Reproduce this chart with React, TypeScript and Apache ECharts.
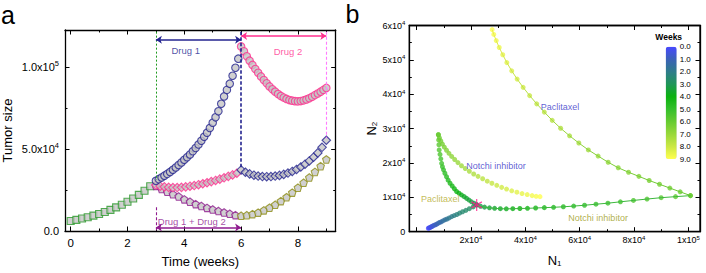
import { useEffect, useRef } from 'react';
import * as echarts from 'echarts';

const FONT = '"Liberation Sans", Arial, Helvetica, sans-serif';

// ---------------- Panel a : tumor size (x1000) vs time (weeks) ----------------
const growthWeeks = [0, 0.2, 0.4, 0.6, 0.8, 1.0, 1.2, 1.4, 1.6, 1.8, 2.0, 2.2, 2.4, 2.6, 2.8];
const growthSize = [6.1, 6.8, 7.6, 8.4, 9.4, 10.4, 11.6, 12.9, 14.4, 16.0, 17.8, 19.8, 22.0, 24.5, 27.3];

const drug1Weeks = [3.0, 3.1, 3.2, 3.3, 3.4, 3.5, 3.6, 3.7, 3.8, 3.9, 4.0, 4.1, 4.2, 4.3, 4.4, 4.5, 4.6, 4.7, 4.8, 4.9, 5.0, 5.1, 5.2, 5.3, 5.4, 5.5, 5.6, 5.7, 5.8, 5.9];
const drug1Size = [30.6, 31.6, 32.6, 33.7, 34.8, 36.0, 37.3, 38.7, 40.2, 41.8, 43.4, 45.0, 46.6, 48.6, 50.6, 52.7, 55.0, 57.4, 59.9, 62.8, 66.0, 69.3, 73.0, 77.5, 82.0, 86.0, 89.8, 94.6, 99.5, 105.0];

const drug2AfterWeeks = [6.0, 6.1, 6.2, 6.3, 6.4, 6.5, 6.6, 6.7, 6.8, 6.9, 7.0, 7.1, 7.2, 7.3, 7.4, 7.5, 7.6, 7.7, 7.8, 7.9, 8.0, 8.1, 8.2, 8.3, 8.4, 8.5, 8.6, 8.7, 8.8, 8.9, 9.0];
const drug2AfterSize = [112.5, 109.5, 106.5, 103.8, 101.2, 98.7, 96.4, 94.2, 92.0, 90.0, 88.1, 86.4, 84.9, 83.5, 82.3, 81.3, 80.5, 79.8, 79.4, 79.1, 79.0, 79.2, 79.6, 80.2, 80.9, 81.8, 82.8, 83.8, 84.9, 86.0, 87.2];

const drug2FirstWeeks = [3.0, 3.15, 3.3, 3.45, 3.6, 3.75, 3.9, 4.05, 4.2, 4.35, 4.5, 4.65, 4.8, 4.95, 5.1, 5.25, 5.4, 5.55, 5.7, 5.85];
const drug2FirstSize = [28.0, 27.3, 26.9, 26.6, 26.5, 26.5, 26.6, 26.9, 27.3, 27.7, 28.2, 28.8, 29.4, 30.1, 30.8, 31.6, 32.4, 33.3, 34.2, 35.2];

const drug1AfterWeeks = [6.0, 6.15, 6.3, 6.45, 6.6, 6.75, 6.9, 7.05, 7.2, 7.35, 7.5, 7.65, 7.8, 7.95, 8.1, 8.25, 8.4, 8.55, 8.7, 8.85, 9.0];
const drug1AfterSize = [37.2, 35.8, 34.8, 34.0, 33.5, 33.2, 33.1, 33.2, 33.5, 33.9, 34.5, 35.3, 36.3, 37.5, 39.0, 40.7, 42.7, 45.0, 47.6, 51.0, 55.3];

const comboWeeks = [3.0, 3.2, 3.4, 3.6, 3.8, 4.0, 4.2, 4.4, 4.6, 4.8, 5.0, 5.2, 5.4, 5.6, 5.8];
const comboSize = [27.5, 25.6, 23.9, 22.4, 21.0, 19.3, 17.8, 16.4, 15.2, 14.1, 13.1, 12.2, 11.3, 10.5, 9.7];

const regrowWeeks = [6.0, 6.2, 6.4, 6.6, 6.8, 7.0, 7.2, 7.4, 7.6, 7.8, 8.0, 8.2, 8.4, 8.6, 8.8, 9.0];
const regrowSize = [9.3, 9.6, 10.3, 11.2, 12.6, 14.2, 16.0, 18.2, 20.6, 23.4, 26.4, 29.4, 32.6, 36.0, 39.5, 43.6];

const aXMajor = [0, 2, 4, 6, 8];
const aXMinor = [1, 3, 5, 7, 9];
const aXLabels = ['0', '2', '4', '6', '8'];
const aYMajor = [0, 50000, 100000];
const aYMinor = [25000, 75000];
const aYLabels = ['0.0', '5.0x10^4', '1.0x10^5'];

// ---------------- Panel b : N1 / N2 phase plane (x1000), colored by week ----------------
const initN1 = [4.3, 4.6, 4.9, 5.3, 5.6, 6.0, 6.5, 6.9, 7.4, 8.0, 8.5, 9.1, 9.8, 10.5, 11.2, 12.0, 12.9, 13.8, 14.8, 15.8, 16.9, 18.1, 19.4, 20.8, 22.1];
const initN2 = [1.0, 1.1, 1.2, 1.4, 1.5, 1.7, 1.9, 2.0, 2.2, 2.5, 2.7, 2.9, 3.2, 3.5, 3.7, 4.0, 4.4, 4.7, 5.0, 5.4, 5.8, 6.2, 6.7, 7.2, 7.8];
const initWeeks = [0, 0.13, 0.25, 0.38, 0.5, 0.63, 0.75, 0.88, 1, 1.13, 1.25, 1.38, 1.5, 1.63, 1.75, 1.88, 2, 2.13, 2.25, 2.38, 2.5, 2.63, 2.75, 2.88, 3];

const notchFirstN1 = [22.1, 23.5, 25.0, 26.8, 28.7, 30.8, 33.0, 35.4, 38.0, 40.8, 43.8, 47.0, 50.4, 54.0, 57.8, 61.8, 66.0, 70.4, 75.0, 79.8, 84.8, 90.0, 95.3, 100.8];
const notchFirstN2 = [7.8, 7.4, 7.15, 6.95, 6.8, 6.7, 6.65, 6.7, 6.75, 6.8, 6.9, 7.0, 7.1, 7.25, 7.45, 7.7, 8.0, 8.3, 8.7, 9.1, 9.5, 9.9, 10.2, 10.5];
const notchFirstWeeks = [3, 3.13, 3.26, 3.39, 3.52, 3.65, 3.78, 3.91, 4.04, 4.17, 4.3, 4.43, 4.57, 4.7, 4.83, 4.96, 5.09, 5.22, 5.35, 5.48, 5.61, 5.74, 5.87, 6];

const paclSecondN1 = [100.8, 97.0, 93.2, 89.4, 85.6, 81.8, 78.0, 74.2, 70.5, 66.8, 63.2, 59.7, 56.3, 53.0, 49.9, 47.0, 44.2, 41.6, 39.2, 37.0, 35.0, 33.2, 31.7, 30.4, 29.3, 28.4, 27.8];
const paclSecondN2 = [10.5, 11.6, 12.7, 13.8, 14.9, 16.1, 17.3, 18.6, 20.2, 22.0, 23.8, 25.8, 27.9, 30.1, 32.4, 34.8, 37.2, 39.6, 42.0, 44.4, 46.8, 49.2, 51.5, 53.6, 55.6, 57.4, 58.8];
const paclSecondWeeks = [6, 6.12, 6.23, 6.35, 6.46, 6.58, 6.69, 6.81, 6.92, 7.04, 7.15, 7.27, 7.38, 7.5, 7.62, 7.73, 7.85, 7.96, 8.08, 8.19, 8.31, 8.42, 8.54, 8.65, 8.77, 8.88, 9];

const paclFirstN1 = [22.1, 21.2, 20.2, 19.3, 18.4, 17.5, 16.5, 15.6, 14.7, 13.9, 13.1, 12.3, 11.6, 11.0, 10.4, 9.9, 9.5, 9.2, 8.9, 8.6, 8.3, 8.2, 8.1, 8.0];
const paclFirstN2 = [7.8, 8.25, 8.7, 9.2, 9.7, 10.2, 10.7, 11.2, 11.7, 12.5, 13.3, 14.1, 15.0, 16.0, 17.0, 18.0, 18.9, 19.9, 21.2, 22.5, 23.8, 25.3, 26.7, 28.2];
const paclFirstWeeks = [3, 3.13, 3.26, 3.39, 3.52, 3.65, 3.78, 3.91, 4.04, 4.17, 4.3, 4.43, 4.57, 4.7, 4.83, 4.96, 5.09, 5.22, 5.35, 5.48, 5.61, 5.74, 5.87, 6];

const notchSecondN1 = [8.0, 8.4, 8.9, 9.5, 10.2, 11.0, 11.9, 12.9, 14.0, 15.2, 16.5, 17.9, 19.4, 21.0, 22.6, 24.3, 26.0, 27.7, 29.5, 31.3, 33.1, 35.0, 36.9, 38.8, 40.7, 42.5, 44.0, 45.4];
const notchSecondN2 = [28.2, 27.3, 26.4, 25.5, 24.6, 23.7, 22.8, 21.9, 21.0, 20.1, 19.2, 18.4, 17.6, 16.8, 16.1, 15.4, 14.7, 14.1, 13.5, 12.9, 12.4, 11.9, 11.5, 11.1, 10.8, 10.5, 10.3, 10.2];
const notchSecondWeeks = [6, 6.11, 6.22, 6.33, 6.44, 6.56, 6.67, 6.78, 6.89, 7, 7.11, 7.22, 7.33, 7.44, 7.56, 7.67, 7.78, 7.89, 8, 8.11, 8.22, 8.33, 8.44, 8.56, 8.67, 8.78, 8.89, 9];

const switchPoint = [22.1, 7.8];

const bXMajor = [0, 20000, 40000, 60000, 80000, 100000];
const bXMinor = [10000, 30000, 50000, 70000, 90000];
const bXLabelValues = [20000, 40000, 60000, 80000, 100000];
const bXLabels = ['2x10^4', '4x10^4', '6x10^4', '8x10^4', '1x10^5'];
const bYMajor = [0, 10000, 20000, 30000, 40000, 50000, 60000];
const bYMinor = [5000, 15000, 25000, 35000, 45000, 55000];
const bYLabels = ['0', '1x10^4', '2x10^4', '3x10^4', '4x10^4', '5x10^4', '6x10^4'];

const weekTicks = [0, 1, 2, 3, 4, 5, 6, 7, 8, 9];
const weekLabels = ['0.0', '1.0', '2.0', '3.0', '4.0', '5.0', '6.0', '7.0', '8.0', '9.0'];
const weekColors = ['#4848ff', '#3b62b8', '#2e7c8a', '#1f9558', '#0bb20f', '#34c02c', '#66cb31', '#98d83b', '#cbe844', '#ffff4f'];

// ---------------- helpers ----------------
const K = 1000;
const B_X_MIN = -2700;
const B_X_MAX = 104300;
const B_Y_MIN = 0;
const B_Y_MAX = 60000;
const GRID_B = { left: 409.3, top: 25.5, width: 290.7, height: 206.2 };
const GRAY = '#c4c4c4';
const NAVY = '#23238f';
const PINK = '#ff2f8e';
const PURPLE = '#8f1b8f';
const GREEN = '#2a9a2a';
const OLIVE = '#8c8c14';

const PENTAGON = 'path://M0,-10L9.51,-3.09L5.88,8.09L-5.88,8.09L-9.51,-3.09Z';
const ASTERISK =
  'path://M-1,-10L1,-10L1,10L-1,10ZM8.16,-5.87L9.16,-4.13L-8.16,5.87L-9.16,4.13ZM-9.16,-4.13L-8.16,-5.87L9.16,4.13L8.16,5.87Z';

function sci(label: string) {
  const k = label.indexOf('^');
  return k < 0 ? `{m|${label}}` : `{m|${label.slice(0, k)}}{s|${label.slice(k + 1)}}`;
}

function pairs(xs: number[], ys: number[], scale = 1) {
  return xs.map((x, i) => [x, ys[i] * scale]);
}

function triples(n1: number[], n2: number[], w: number[]) {
  return n1.map((x, i) => [x * K, n2[i] * K, w[i]]);
}

// four axes per dimension: labelled main side, its minor ticks, mirrored side and its minor ticks
function frameAxes(
  dim: 'x' | 'y',
  gridIndex: number,
  min: number,
  max: number,
  majors: number[],
  minors: number[],
  labelValues: number[],
  labels: string[],
  labelStyle: any,
  extra: any,
  drawLines = true,
  drawLabels = true
) {
  const isX = dim === 'x';
  const lineStyle = { color: '#000', width: 1.3 };
  const tickStyle = { color: '#000', width: 1 };
  const fmt = (v: number) => {
    const i = labelValues.findIndex((u) => Math.abs(u - v) < 1e-6);
    return i < 0 ? '' : sci(labels[i]);
  };
  const base = { type: 'value', gridIndex, min, max, splitLine: { show: false } };
  const near = isX ? 'bottom' : 'left';
  const far = isX ? 'top' : 'right';
  const main: any = {
    ...base,
    position: near,
    axisLine: { show: drawLines, onZero: false, lineStyle },
    axisTick: { show: drawLines, inside: true, length: 4.5, lineStyle: tickStyle, customValues: majors },
    axisLabel: drawLabels
      ? { show: true, customValues: labelValues, formatter: fmt, ...labelStyle }
      : { show: false },
    ...(drawLabels ? extra : {}),
  };
  if (!drawLines) return [main];
  return [
    main,
    {
      ...base,
      position: near,
      axisLine: { show: false, onZero: false },
      axisTick: { show: true, inside: true, length: 2.5, lineStyle: tickStyle, customValues: minors },
      axisLabel: { show: false },
    },
    {
      ...base,
      position: far,
      axisLine: { show: true, onZero: false, lineStyle },
      axisTick: { show: true, inside: true, length: 4.5, lineStyle: tickStyle, customValues: majors },
      axisLabel: { show: false },
    },
    {
      ...base,
      position: far,
      axisLine: { show: false, onZero: false },
      axisTick: { show: true, inside: true, length: 2.5, lineStyle: tickStyle, customValues: minors },
      axisLabel: { show: false },
    },
  ];
}

function buildOptionA() {
  const richA = {
    m: { fontSize: 11, fontFamily: FONT, color: '#000' },
    s: { fontSize: 7.5, fontFamily: FONT, color: '#000', padding: [0, 0, 7, 0] },
  };
  const xA = frameAxes('x', 0, -0.2, 9.33, aXMajor, aXMinor, aXMajor, aXLabels,
    { margin: 6, rich: { m: { fontSize: 11.5, fontFamily: FONT, color: '#000' } } },
    {
      name: 'Time (weeks)', nameLocation: 'middle', nameGap: 24,
      nameTextStyle: { fontSize: 13, fontFamily: FONT, color: '#000' },
    });
  const yA = frameAxes('y', 0, 0, 122500, aYMajor, aYMinor, aYMajor, aYLabels,
    { margin: 6, rich: richA },
    {
      name: 'Tumor size', nameLocation: 'middle', nameGap: 51,
      nameTextStyle: { fontSize: 13, fontFamily: FONT, color: '#000' },
    });

  const aSeries = (data: number[][], symbol: string, size: number, color: string) => ({
    type: 'scatter', xAxisIndex: 0, yAxisIndex: 0, symbol, symbolSize: size,
    itemStyle: { color: GRAY, borderColor: color, borderWidth: 1.1 }, data, silent: true,
  });

  const series: any[] = [
    aSeries(pairs(growthWeeks, growthSize, K), 'rect', 7, GREEN),
    aSeries(pairs(comboWeeks, comboSize, K), PENTAGON, 7.5, PURPLE),
    aSeries(pairs(regrowWeeks, regrowSize, K), PENTAGON, 7.5, OLIVE),
    aSeries(pairs(drug2FirstWeeks, drug2FirstSize, K), 'diamond', 8.5, PINK),
    aSeries(pairs(drug1AfterWeeks, drug1AfterSize, K), 'diamond', 8.5, NAVY),
    aSeries(pairs(drug1Weeks, drug1Size, K), 'circle', 7.5, NAVY),
    aSeries(pairs(drug2AfterWeeks, drug2AfterSize, K), 'circle', 7.5, PINK),
    {
      type: 'scatter', xAxisIndex: 0, yAxisIndex: 0, symbolSize: 1, silent: true, z: 5,
      itemStyle: { color: 'rgba(0,0,0,0)' },
      label: { show: true, position: 'inside', fontSize: 9.5, fontFamily: FONT },
      data: [
        { value: [4.05, 110000], label: { formatter: 'Drug 1', color: NAVY } },
        { value: [7.65, 109500], label: { formatter: 'Drug 2', color: PINK } },
        { value: [3.05, 5500], label: { formatter: 'Drug 1 + Drug 2', color: PURPLE, position: 'right', distance: 0 } },
      ],
      markLine: {
        silent: true, symbol: ['none', 'none'], label: { show: false }, emphasis: { disabled: true },
        data: [
          [{ coord: [3, 121500], lineStyle: { color: '#1f9a1f', type: [2, 2], width: 1 } }, { coord: [3, 31000] }],
          [{ coord: [6, 121500], lineStyle: { color: NAVY, type: [3.5, 2], width: 1.6 } }, { coord: [6, 38500] }],
          [{ coord: [9, 121500], lineStyle: { color: '#ff7cff', type: [3, 2], width: 1.1 } }, { coord: [9, 56500] }],
          [{ coord: [3, 14500], lineStyle: { color: PURPLE, type: [3, 2], width: 1.1 } }, { coord: [3, 400] }],
          [
            { coord: [3, 116500], symbol: 'arrow', symbolSize: 6, lineStyle: { color: NAVY, type: 'solid', width: 1.5 } },
            { coord: [6, 116500], symbol: 'arrow', symbolSize: 6 },
          ],
          [
            { coord: [6, 118900], symbol: 'arrow', symbolSize: 6, lineStyle: { color: PINK, type: 'solid', width: 1.5 } },
            { coord: [9, 118900], symbol: 'arrow', symbolSize: 6 },
          ],
          [
            { coord: [3, 2100], symbol: 'arrow', symbolSize: 6, lineStyle: { color: PURPLE, type: 'solid', width: 1.5 } },
            { coord: [6, 2100], symbol: 'arrow', symbolSize: 6 },
          ],
        ],
      },
    },
  ];

  return {
    animation: false,
    backgroundColor: '#fff',
    textStyle: { fontFamily: FONT },
    grid: [{ left: 62.7, top: 30, width: 273, height: 203.5 }],
    xAxis: xA,
    yAxis: yA,
    graphic: [
      { type: 'text', x: 1, y: 27, style: { text: 'a', fontSize: 25, fontFamily: FONT, fill: '#000', verticalAlign: 'bottom' } },
    ],
    series,
  };
}

// panel b frame and inward ticks only (a plain chart of its own)
function buildOptionBFrame() {
  const xF = frameAxes('x', 0, B_X_MIN, B_X_MAX, bXMajor, bXMinor, [], [], {}, {}, true, false);
  const yF = frameAxes('y', 0, B_Y_MIN, B_Y_MAX, bYMajor, bYMinor, [], [], {}, {}, true, false);
  return {
    animation: false,
    backgroundColor: 'rgba(0,0,0,0)',
    grid: [{ ...GRID_B, show: true, borderColor: '#000', borderWidth: 1.3, backgroundColor: 'rgba(0,0,0,0)' }],
    xAxis: xF,
    yAxis: yF,
    series: [{ type: 'scatter', xAxisIndex: 0, yAxisIndex: 0, symbolSize: 0, silent: true, data: [[B_X_MIN, B_Y_MIN]] }],
  };
}

function buildOptionB() {
  const richB = {
    m: { fontSize: 9, fontFamily: FONT, color: '#000' },
    s: { fontSize: 6, fontFamily: FONT, color: '#000', padding: [0, 0, 5, 0] },
  };
  const nameRich = {
    n: { fontSize: 13, fontFamily: FONT, color: '#000' },
    d: { fontSize: 8, fontFamily: FONT, color: '#000', padding: [6, 0, 0, 0] },
  };
  const xB = frameAxes('x', 0, B_X_MIN, B_X_MAX, bXMajor, bXMinor, bXLabelValues, bXLabels,
    { margin: 3, rich: richB },
    { name: '{n|N}{d|1}', nameLocation: 'middle', nameGap: 22, nameTextStyle: { rich: nameRich } },
    false, true);
  const yB = frameAxes('y', 0, B_Y_MIN, B_Y_MAX, bYMajor, bYMinor, bYMajor, bYLabels,
    { margin: 4, rich: richB },
    { name: '{n|N}{d|2}', nameLocation: 'middle', nameGap: 26, nameTextStyle: { rich: nameRich } },
    false, true);

  const xBar = { type: 'value', gridIndex: 1, show: false, min: 0, max: 1 };
  const yBar = {
    type: 'value', gridIndex: 1, min: 0, max: 9, inverse: true, position: 'right',
    axisLine: { show: false }, axisTick: { show: false }, splitLine: { show: false },
    axisLabel: {
      show: true, customValues: weekTicks, margin: 3, fontSize: 8, fontFamily: FONT, color: '#000',
      formatter: (v: number) => {
        const i = weekTicks.indexOf(v);
        return i < 0 ? '' : weekLabels[i];
      },
    },
    name: 'Weeks', nameLocation: 'start', nameGap: 5,
    nameTextStyle: { fontSize: 8.5, fontWeight: 'bold', fontFamily: FONT, color: '#000', align: 'center', padding: [0, 0, 0, 6] },
  };

  const series: any[] = [];
  series.push({
    type: 'line', xAxisIndex: 0, yAxisIndex: 0, symbol: 'none', silent: true,
    lineStyle: { color: '#3cb83c', width: 1 },
    data: pairs(notchFirstN1.map((v) => v * K), notchFirstN2, K),
  });
  series.push({
    type: 'line', xAxisIndex: 0, yAxisIndex: 0, symbol: 'none', silent: true,
    lineStyle: {
      width: 1,
      color: {
        type: 'linear', x: 0, y: 0, x2: 0, y2: 1,
        colorStops: [{ offset: 0, color: '#eaee50' }, { offset: 1, color: '#66c830' }],
      },
    },
    data: pairs(paclSecondN1.map((v) => v * K), paclSecondN2, K),
  });

  const pathIdx: number[] = [];
  const addPath = (data: number[][]) => {
    pathIdx.push(series.length);
    series.push({ type: 'scatter', xAxisIndex: 0, yAxisIndex: 0, symbol: 'circle', symbolSize: 5, silent: true, data });
  };
  addPath(triples(initN1, initN2, initWeeks));
  addPath(triples(paclFirstN1, paclFirstN2, paclFirstWeeks));
  addPath(triples(notchFirstN1, notchFirstN2, notchFirstWeeks));
  addPath(triples(notchSecondN1, notchSecondN2, notchSecondWeeks));
  addPath(triples(paclSecondN1, paclSecondN2, paclSecondWeeks));

  series.push({
    type: 'scatter', xAxisIndex: 0, yAxisIndex: 0, symbol: ASTERISK, symbolSize: [11, 12], silent: true, z: 6,
    itemStyle: { color: '#ff1a8a' },
    data: [[switchPoint[0] * K, switchPoint[1] * K]],
  });
  series.push({
    type: 'scatter', xAxisIndex: 0, yAxisIndex: 0, symbolSize: 1, silent: true, z: 7,
    itemStyle: { color: 'rgba(0,0,0,0)' },
    label: { show: true, position: 'inside', fontSize: 9, fontFamily: FONT },
    data: [
      { value: [52800, 36400], label: { formatter: 'Paclitaxel', color: '#3434c8' } },
      { value: [29200, 19200], label: { formatter: 'Notchi inhibitor', color: '#3434c8' } },
      { value: [8700, 9450], label: { formatter: 'Paclitaxel', color: '#b3ab2a' } },
      { value: [66800, 3900], label: { formatter: 'Notchi inhibitor', color: '#9a9a14' } },
    ],
  });

  return {
    animation: false,
    backgroundColor: 'rgba(0,0,0,0)',
    textStyle: { fontFamily: FONT },
    grid: [
      { ...GRID_B },
      { left: 665.7, top: 46.7, width: 11, height: 112.3 },
    ],
    xAxis: [...xB, xBar],
    yAxis: [...yB, yBar],
    visualMap: {
      type: 'continuous', min: 0, max: 9, dimension: 2, seriesIndex: pathIdx,
      inRange: { color: weekColors }, orient: 'vertical', inverse: true, calculable: false,
      left: 665.7, top: 46.7, itemWidth: 11, itemHeight: 112.3, padding: 0,
    },
    graphic: [
      { type: 'text', x: 345.5, y: 26.5, style: { text: 'b', fontSize: 25, fontFamily: FONT, fill: '#000', verticalAlign: 'bottom' } },
    ],
    series,
  };
}

export default function App() {
  const refA = useRef<HTMLDivElement>(null);
  const refF = useRef<HTMLDivElement>(null);
  const refB = useRef<HTMLDivElement>(null);
  useEffect(() => {
    const a = refA.current;
    const f = refF.current;
    const b = refB.current;
    if (!a || !f || !b) return;
    const opts = { renderer: 'svg' as const, width: 706, height: 273 };
    const chartA = echarts.init(a, undefined, opts);
    chartA.setOption(buildOptionA() as any);
    const chartF = echarts.init(f, undefined, opts);
    chartF.setOption(buildOptionBFrame() as any);
    const chartB = echarts.init(b, undefined, opts);
    chartB.setOption(buildOptionB() as any);
    return () => {
      chartA.dispose();
      chartF.dispose();
      chartB.dispose();
    };
  }, []);
  const box: any = { position: 'absolute', left: 0, top: 0, width: 706, height: 273 };
  return (
    <div style={{ position: 'fixed', left: 0, top: 0, width: 706, height: 273, background: '#fff' }}>
      <div ref={refA} style={box} />
      <div ref={refF} style={box} />
      <div ref={refB} style={box} />
    </div>
  );
}
